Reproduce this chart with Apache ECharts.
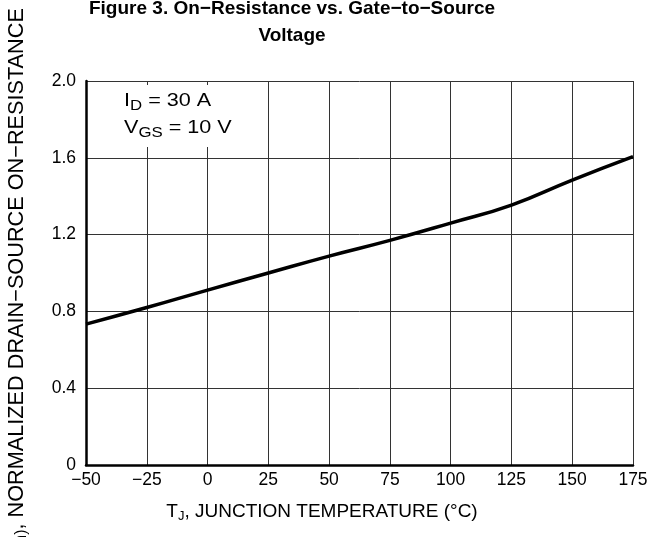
<!DOCTYPE html>
<html>
<head>
<meta charset="utf-8">
<script src="https://cdn.jsdelivr.net/npm/echarts@6/dist/echarts.min.js"></script>
<style>
  html, body { margin: 0; padding: 0; background: #fff; }
  #chart { width: 652px; height: 537px; }
</style>
</head>
<body>
<div id="chart"></div>
<script>
  // junction temperature (°C) and normalized on-resistance
  const temps = [-50, -25, 0, 25, 50, 75, 100, 125, 150, 175]
  const rdsNorm = [0.734, 0.82, 0.911, 1.0, 1.088, 1.17, 1.26, 1.354, 1.484, 1.606]
  const xTicks = { min: -50, max: 175, step: 25 }
  const yTicks = { min: 0, max: 2.0, step: 0.4 }

  const font = 'Liberation Sans, Arial, Helvetica, sans-serif'
  let chart = echarts.init(document.getElementById('chart'))

  let option = {
    animation: false,
    backgroundColor: '#fff',
    title: {
      text: 'Figure 3. On\u2212Resistance vs. Gate\u2212to\u2212Source\nVoltage',
      left: 287,
      textAlign: 'center',
      top: -10,
      textStyle: { fontFamily: font, fontSize: 19, fontWeight: 'bold', color: '#000', lineHeight: 27 }
    },
    grid: { left: 86, right: 19, top: 81, bottom: 72 },
    xAxis: {
      type: 'value',
      min: xTicks.min,
      max: xTicks.max,
      interval: xTicks.step,
      axisLine: { onZero: false, lineStyle: { color: '#000', width: 2.5 } },
      axisTick: { show: false },
      axisLabel: {
        margin: 6,
        fontFamily: font,
        fontSize: 17.5,
        color: '#000',
        formatter: v => String(v).replace('-', '\u2212')
      },
      splitLine: { show: true, lineStyle: { color: '#333', width: 1 } }
    },
    yAxis: {
      type: 'value',
      min: yTicks.min,
      max: yTicks.max,
      interval: yTicks.step,
      axisLine: { show: true, onZero: false, lineStyle: { color: '#000', width: 2.5 } },
      axisTick: { show: false },
      axisLabel: {
        margin: 10,
        fontFamily: font,
        fontSize: 17.5,
        color: '#000',
        formatter: v => v === 0 ? '0' : v.toFixed(1)
      },
      splitLine: { show: true, lineStyle: { color: '#333', width: 1 } }
    },
    series: [{
      type: 'line',
      data: temps.map((t, i) => [t, rdsNorm[i]]),
      showSymbol: false,
      smooth: 0.5,
      lineStyle: { color: '#000', width: 3.5 },
      z: 5
    }],
    graphic: [
      {
        type: 'rect',
        shape: { x: 118, y: 85, width: 118, height: 62 },
        style: { fill: '#fff' },
        z: 10
      },
      {
        type: 'text',
        x: 124,
        y: 88,
        scaleX: 1.2,
        z: 11,
        style: {
          text: '{n|I}{s|D}{n| = 30 A}\n{n|V}{s|GS}{n| = 10 V}',
          rich: {
            n: { fontFamily: font, fontSize: 18, color: '#000', lineHeight: 27 },
            s: { fontFamily: font, fontSize: 14, color: '#000', lineHeight: 27, padding: [10, 0, 0, 0] }
          }
        }
      },
      {
        type: 'text',
        x: 322,
        y: 512,
        style: {
          text: '{n|T}{s|J}{n|, JUNCTION TEMPERATURE (\u00b0C)}',
          align: 'center',
          verticalAlign: 'middle',
          rich: {
            n: { fontFamily: font, fontSize: 19, color: '#000' },
            s: { fontFamily: font, fontSize: 13, color: '#000', padding: [8, 0, 0, 0] }
          }
        }
      },
      {
        type: 'text',
        x: 17,
        y: 302,
        rotation: Math.PI / 2,
        style: {
          text: '{n|R}{s|DS(on)}{n|, NORMALIZED DRAIN\u2212SOURCE ON\u2212RESISTANCE}',
          align: 'center',
          verticalAlign: 'middle',
          rich: {
            n: { fontFamily: font, fontSize: 21.7, color: '#000' },
            s: { fontFamily: font, fontSize: 16, color: '#000', padding: [9, 0, 0, 0] }
          }
        }
      }
    ]
  }
  chart.setOption(option)
</script>
</body>
</html>
